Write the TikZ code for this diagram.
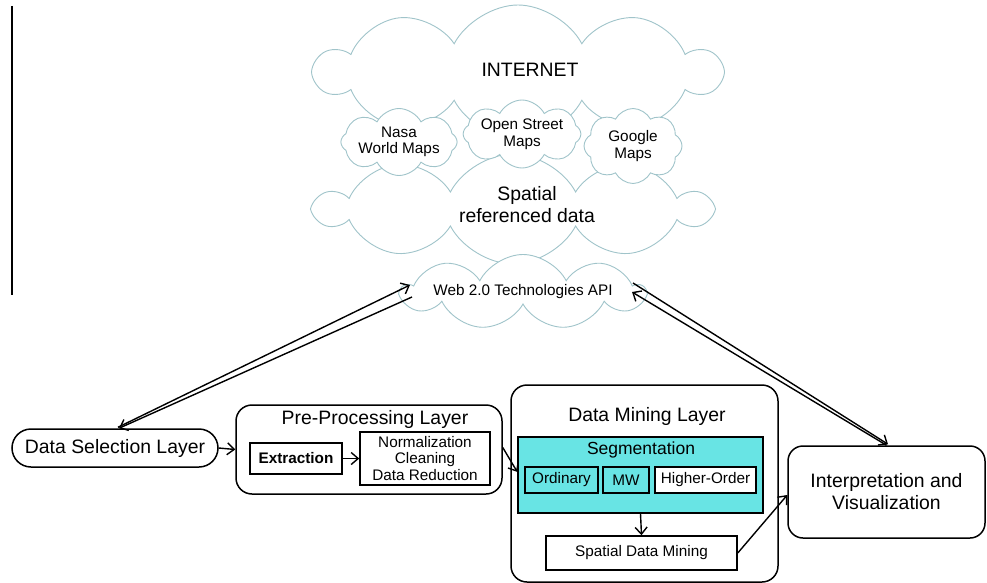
\documentclass[tikz,border=0pt]{standalone}
\usepackage{fontspec}
\setmainfont{Liberation Sans}
\usetikzlibrary{shapes.symbols,arrows.meta,calc}

\definecolor{cloudline}{RGB}{160,196,202}
\definecolor{segcyan}{RGB}{104,228,228}

\newcommand{\bigtxt}{\fontsize{19.4}{22}\selectfont}
\newcommand{\midtxt}{\fontsize{17.5}{20}\selectfont}
\newcommand{\smalltxt}{\fontsize{15.3}{16.5}\selectfont}

\begin{document}
\begin{tikzpicture}[x=1pt,y=-1pt,
  cloudshape/.style={cloud, draw=cloudline, fill=white, line width=0.9pt,
    cloud ignores aspect, inner sep=0pt, align=center, cloud puff arc=125},
  layerbox/.style={draw, rounded corners=16pt, line width=1.5pt, inner sep=0pt},
  plainbox/.style={draw, line width=1.5pt, inner sep=0pt, fill=white, font=\smalltxt},
  conn/.style={line width=1.4pt, -{Straight Barb[length=7pt,width=12pt]}},
]
\useasboundingbox (0,0) rectangle (987,583);

% margin rule on the left
\draw[line width=1.5pt] (12,6) -- (12,295);

% the internet cloud: lower and upper halves
\node[cloudshape, cloud puffs=10, minimum width=392pt, minimum height=110pt] (lowcloud) at (513,209) {};
\node[cloudshape, cloud puffs=10, minimum width=404pt, minimum height=134pt] (upcloud) at (518,72) {};
\node[font=\bigtxt] (inet) at (530,70) {INTERNET};
\node[font=\bigtxt, align=center] (srd) at (527,205) {Spatial\\referenced data};

% map providers
\node[cloudshape, cloud puffs=8, minimum width=106pt, minimum height=67pt, font=\smalltxt] (nasa) at (399,142) {Nasa\\World Maps};
\node[cloudshape, cloud puffs=8, minimum width=112pt, minimum height=68pt, font=\smalltxt] (osm) at (522,134) {Open Street\\Maps};
\node[cloudshape, cloud puffs=8, minimum width=98pt, minimum height=75pt, font=\smalltxt] (gmaps) at (633,146) {Google\\Maps};

% web API cloud
\node[cloudshape, cloud puffs=9, minimum width=220pt, minimum height=75pt, font=\smalltxt] (web) at (523,292) {Web 2.0 Technologies API};

% processing chain
\node[layerbox, rounded corners=19pt, minimum width=206pt, minimum height=38pt, font=\bigtxt] (dsl) at (115,448) {Data Selection Layer};

\node[layerbox, minimum width=266pt, minimum height=89pt] (ppl) at (369,449.5) {};
\node[font=\bigtxt] (pplt) at (375,419) {Pre-Processing Layer};
\node[plainbox, line width=1.9pt, minimum width=92pt, minimum height=31pt, font=\smalltxt\bfseries] (extr) at (296,458.5) {Extraction};
\node[plainbox, minimum width=130pt, minimum height=53pt, align=center] (norm) at (425,458.5) {Normalization\\Cleaning\\Data Reduction};

\node[layerbox, minimum width=267pt, minimum height=197pt] (dml) at (644.5,483.5) {};
\node[font=\bigtxt] (dmlt) at (647,416) {Data Mining Layer};
\node[plainbox, fill=segcyan, minimum width=245pt, minimum height=76pt] (seg) at (640.5,475) {};
\node[font=\midtxt] (segt) at (641,450) {Segmentation};
\node[plainbox, fill=segcyan, minimum width=73pt, minimum height=26pt] (ord) at (561.5,480) {Ordinary};
\node[plainbox, fill=segcyan, minimum width=46pt, minimum height=26pt] (mw) at (626,480) {MW};
\node[plainbox, minimum width=101pt, minimum height=26pt] (hor) at (705.5,480) {Higher-Order};
\node[plainbox, minimum width=191pt, minimum height=34pt] (sdm) at (641.5,553) {Spatial Data Mining};

\node[layerbox, rounded corners=15pt, minimum width=197pt, minimum height=92pt, align=center, font=\bigtxt] (iv) at (886.5,492) {Interpretation and\\Visualization};

% connectors
\draw[conn] (dsl.east) -- (ppl.west);
\draw[conn] (extr.east) -- (norm.west);
\coordinate (segin) at ($(seg.north west)!0.46!(seg.south west)$);
\draw[conn] ($(ppl.east)+(0,-2)$) -- (segin);
\draw[conn] (seg.south) -- (sdm.north);
\draw[conn] (sdm.east) -- ($(iv.west)+(0,3)$);

% exchanges with the web API
\coordinate (wa) at (410,285);
\coordinate (wb) at (412,297);
\coordinate (wc) at (633,283);
\coordinate (wd) at (632,292);
\draw[conn] ($(dsl.north)+(3,-1)$) -- (wa);
\draw[conn] (wb) -- ($(dsl.north)+(4,0)$);
\draw[conn] (wc) -- ($(iv.north)+(1.5,-1)$);
\draw[conn] (iv.north) -- (wd);
\end{tikzpicture}
\end{document}
